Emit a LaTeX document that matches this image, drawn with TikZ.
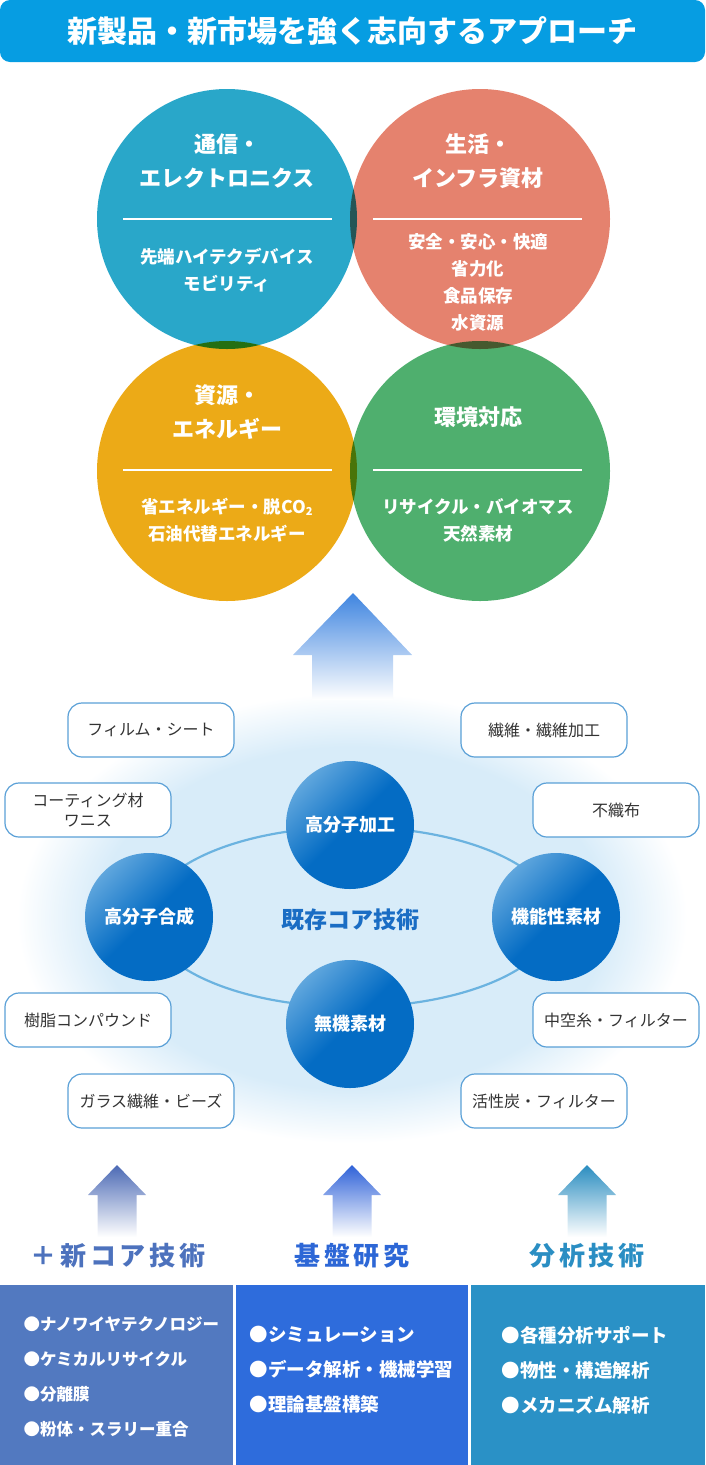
\documentclass[tikz,border=0pt]{standalone}
\usepackage{fontspec}
\setmainfont{Noto Sans CJK JP}
\newcommand\jfont[2]{\fontsize{#1}{#2}\selectfont}

\definecolor{titlec}{RGB}{6,157,226}
\definecolor{telec}{RGB}{41,167,201}
\definecolor{lifec}{RGB}{229,130,110}
\definecolor{enerc}{RGB}{236,170,23}
\definecolor{envc}{RGB}{79,175,110}
\definecolor{glowc}{RGB}{216,236,249}
\definecolor{upc}{RGB}{63,133,224}
\definecolor{ringc}{RGB}{107,179,224}
\definecolor{corelt}{RGB}{95,166,221}
\definecolor{coredk}{RGB}{4,108,196}
\definecolor{coretext}{RGB}{26,109,196}
\definecolor{pillline}{RGB}{90,160,215}
\definecolor{pilltext}{RGB}{51,51,51}
\definecolor{newc}{RGB}{76,106,181}
\definecolor{newt}{RGB}{77,114,189}
\definecolor{newp}{RGB}{82,121,192}
\definecolor{basec}{RGB}{47,98,216}
\definecolor{baset}{RGB}{45,103,214}
\definecolor{basep}{RGB}{46,108,220}
\definecolor{anac}{RGB}{42,141,192}
\definecolor{anat}{RGB}{42,142,195}
\definecolor{anap}{RGB}{42,145,198}

\pgfdeclareradialshading{glow}{\pgfpoint{0bp}{0bp}}{color(0bp)=(glowc); color(19bp)=(glowc); color(25bp)=(white); color(50bp)=(white)}

\begin{document}
\begin{tikzpicture}[x=1pt,y=-1pt,
  bubble/.style={circle, minimum size=260pt, inner sep=0pt},
  head/.style={text=white, align=center, font=\jfont{22}{34}\bfseries},
  sub/.style={text=white, align=center, font=\jfont{17.5}{27}\bfseries},
  split/.style={white, line width=1.5pt},
  core/.style={circle, minimum size=128pt, inner sep=0pt, top color=corelt, bottom color=coredk, middle color=coredk, shading angle=45, text=white, font=\jfont{18}{18}\bfseries},
  app/.style={draw=pillline, line width=1.2pt, fill=white, rounded corners=14pt, minimum width=166pt, minimum height=54pt, text=pilltext, align=center, font=\jfont{16}{20}},
  base/.style={font=\jfont{26}{26}\bfseries\addfontfeature{LetterSpace=15}},
  items/.style={anchor=west, text=white, align=left, font=\jfont{18.5}{35}\bfseries},
  ring/.style={ringc, line width=2.2pt},
  pics/uparr/.style={code={
    \shade[top color=#1, bottom color=white] (0,0) -- (29,30) -- (19.5,30) -- (19.5,72) -- (-19.5,72) -- (-19.5,30) -- (-29,30) -- cycle;
  }}
]
\useasboundingbox (0,0) rectangle (705,1465);

% title bar
\node[fill=titlec, rounded corners=10pt, minimum width=705pt, minimum height=62pt, inner sep=0pt,
      text=white, font=\jfont{30}{30}\bfseries] (title) at (352.5,31) {新製品・新市場を強く志向するアプローチ};

% four fields
\begin{scope}[blend group=multiply]
  \node[bubble, fill=telec] (tele) at (227,219) {};
  \node[bubble, fill=lifec] (life) at (480,219) {};
  \node[bubble, fill=enerc] (ener) at (227,471) {};
  \node[bubble, fill=envc] (env) at (480,471) {};
\end{scope}

\node[head] (telehead) at (227,161) {通信・\\エレクトロニクス};
\draw[split] (123,219) -- (332,219);
\node[sub] (telesub) at (227,270) {先端ハイテクデバイス\\モビリティ};

\node[head] (lifehead) at (478,161) {生活・\\インフラ資材};
\draw[split] (373,219) -- (582,219);
\node[sub] (lifesub) at (478,282) {安全・安心・快適\\省力化\\食品保存\\水資源};

\node[head] (enerhead) at (227,412) {資源・\\エネルギー};
\draw[split] (123,470) -- (332,470);
\node[sub] (enersub) at (227,520) {省エネルギー・脱CO\raisebox{-0.25ex}{\jfont{11}{11}2}\\石油代替エネルギー};

\node[head] (envhead) at (478,417) {環境対応};
\draw[split] (373,470) -- (582,470);
\node[sub] (envsub) at (478,520) {リサイクル・バイオマス\\天然素材};

% glow and arrow
\shade[shading=glow] (352,918) ellipse [x radius=335pt, y radius=225pt];
\shade[top color=upc, bottom color=white] (353,593) -- (412,655) -- (393,655) -- (393,700) -- (312,700) -- (312,655) -- (293,655) -- cycle;

% core technologies
\coordinate (ringc) at (352,917);
\draw[ring] (ringc) ellipse [x radius=204pt, y radius=90pt];
\node[core] (proc) at (350,825) {高分子加工};
\node[core] (synth) at (149,917) {高分子合成};
\node[core] (func) at (556,917) {機能性素材};
\node[core] (inorg) at (350,1024) {無機素材};
\node[text=coretext, font=\jfont{23}{23}\bfseries] (corelbl) at (350,920) {既存コア技術};

% applications
\node[app] (film) at (151,730) {フィルム・シート};
\node[app] (coat) at (88,810) {コーティング材\\ワニス};
\node[app] (resin) at (88,1020) {樹脂コンパウンド};
\node[app] (glass) at (151,1101) {ガラス繊維・ビーズ};
\node[app] (fiber) at (544,730) {繊維・繊維加工};
\node[app] (nonwov) at (616,810) {不織布};
\node[app] (hollow) at (616,1020) {中空糸・フィルター};
\node[app] (carbon) at (544,1101) {活性炭・フィルター};

% foundations
\pic at (117,1165) {uparr=newc};
\pic at (352,1165) {uparr=basec};
\pic at (587,1165) {uparr=anac};
\node[base, text=newt] (newlbl) at (118,1256) {＋新コア技術};
\node[base, text=baset] (baselbl) at (352,1256) {基盤研究};
\node[base, text=anat] (analbl) at (587,1256) {分析技術};

\fill[newp] (0,1285) rectangle (233,1465);
\fill[basep] (236,1285) rectangle (468,1465);
\fill[anap] (471,1285) rectangle (705,1465);
\node[items, font=\jfont{16.5}{35}\bfseries] (newitems) at (20,1377) {●ナノワイヤテクノロジー\\●ケミカルリサイクル\\●分離膜\\●粉体・スラリー重合};
\node[items] (baseitems) at (246,1370) {●シミュレーション\\●データ解析・機械学習\\●理論基盤構築};
\node[items] (anaitems) at (498,1370) {●各種分析サポート\\●物性・構造解析\\●メカニズム解析};
\end{tikzpicture}
\end{document}
